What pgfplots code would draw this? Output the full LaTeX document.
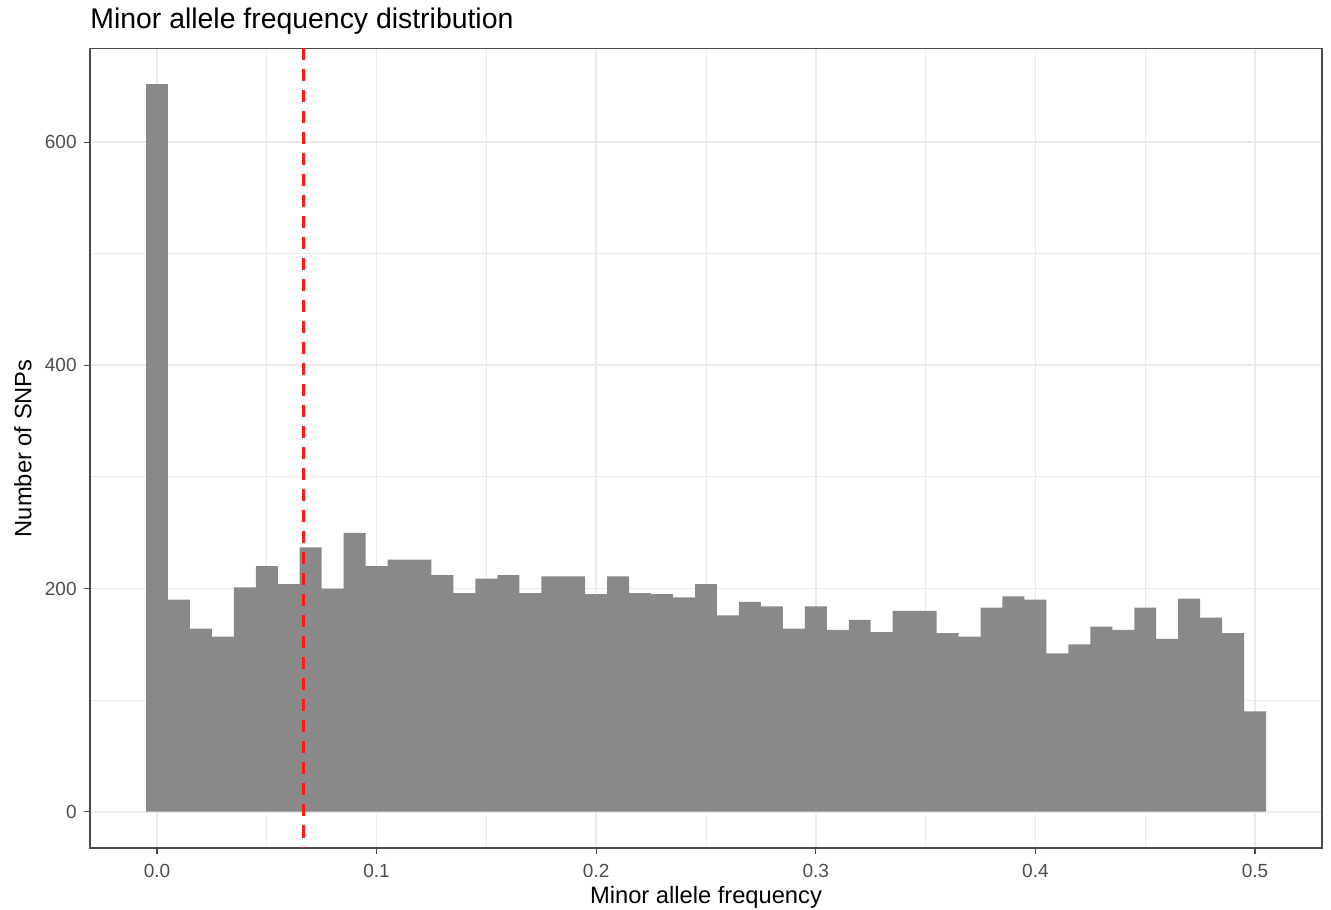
\documentclass[border=0pt]{standalone}
\usepackage{pgfplots}
\pgfplotsset{compat=1.18}
\usepackage{fontspec}
\setmainfont{Liberation Sans}
\definecolor{gridc}{HTML}{EBEBEB}
\definecolor{barc}{HTML}{898989}
\definecolor{tickc}{HTML}{4D4D4D}
\definecolor{borderc}{HTML}{4A4A4A}
\definecolor{vline}{HTML}{FF1A1A}
\begin{document}
\begin{tikzpicture}
\useasboundingbox (-45pt,-30.5pt) rectangle (620.5pt,424pt);
\begin{axis}[
  at={(0,0)}, anchor=south west,
  width=616pt, height=399.75pt, scale only axis,
  xmin=-0.0305, xmax=0.5305, ymin=-32.5, ymax=684,
  axis line style={borderc, line width=0.55pt},
  xtick={0,0.1,0.2,0.3,0.4,0.5},
  xticklabels={0.0,0.1,0.2,0.3,0.4,0.5},
  ytick={0,200,400,600},
  minor xtick={0.05,0.15,0.25,0.35,0.45},
  minor ytick={100,300,500},
  grid=both,
  major grid style={gridc, line width=0.9pt},
  minor grid style={gridc, line width=0.5pt},
  tick align=outside,
  tick pos=left,
  major tick length=3pt,
  minor tick length=0pt,
  every tick/.style={borderc, line width=0.6pt},
  /pgf/number format/assume math mode=true,
  xticklabel style={font=\fontsize{9.5}{11}\selectfont, text=tickc, inner sep=0pt, anchor=north, yshift=-5pt},
  yticklabel style={font=\fontsize{9.5}{11}\selectfont, text=tickc, inner sep=0pt, anchor=east, xshift=-3.5pt},
  xlabel={Minor allele frequency},
  ylabel={Number of SNPs},
  xlabel style={font=\fontsize{11.85}{14}\selectfont, at={(axis description cs:0.5,0)}, anchor=base, inner sep=0pt, yshift=-27.5pt},
  ylabel style={font=\fontsize{11.85}{14}\selectfont, at={(axis description cs:0,0.5)}, anchor=center, inner sep=0pt, yshift=33.5pt},
  title={Minor allele frequency distribution},
  title style={font=\fontsize{14.2}{17}\selectfont, at={(axis description cs:0,1)}, anchor=base west, inner sep=0pt, yshift=3.75pt},
]
\addplot[ybar interval, fill=barc, draw=none] coordinates {
(-0.005,652) (0.005,190) (0.015,164) (0.025,157) (0.035,201) (0.045,220)
(0.055,204) (0.065,237) (0.075,200) (0.085,250) (0.095,220) (0.105,226)
(0.115,226) (0.125,212) (0.135,196) (0.145,209) (0.155,212) (0.165,196)
(0.175,211) (0.185,211) (0.195,195) (0.205,211) (0.215,196) (0.225,195)
(0.235,192) (0.245,204) (0.255,176) (0.265,188) (0.275,184) (0.285,164)
(0.295,184) (0.305,163) (0.315,172) (0.325,161) (0.335,180) (0.345,180)
(0.355,160) (0.365,157) (0.375,183) (0.385,193) (0.395,190) (0.405,142)
(0.415,150) (0.425,166) (0.435,163) (0.445,183) (0.455,155) (0.465,191)
(0.475,174) (0.485,160) (0.495,90) (0.505,90)
};
\addplot[vline, line width=1.1pt, dash pattern=on 6pt off 4.5pt] coordinates {(0.0667,684) (0.0667,-32.5)};
\end{axis}
\end{tikzpicture}
\end{document}
